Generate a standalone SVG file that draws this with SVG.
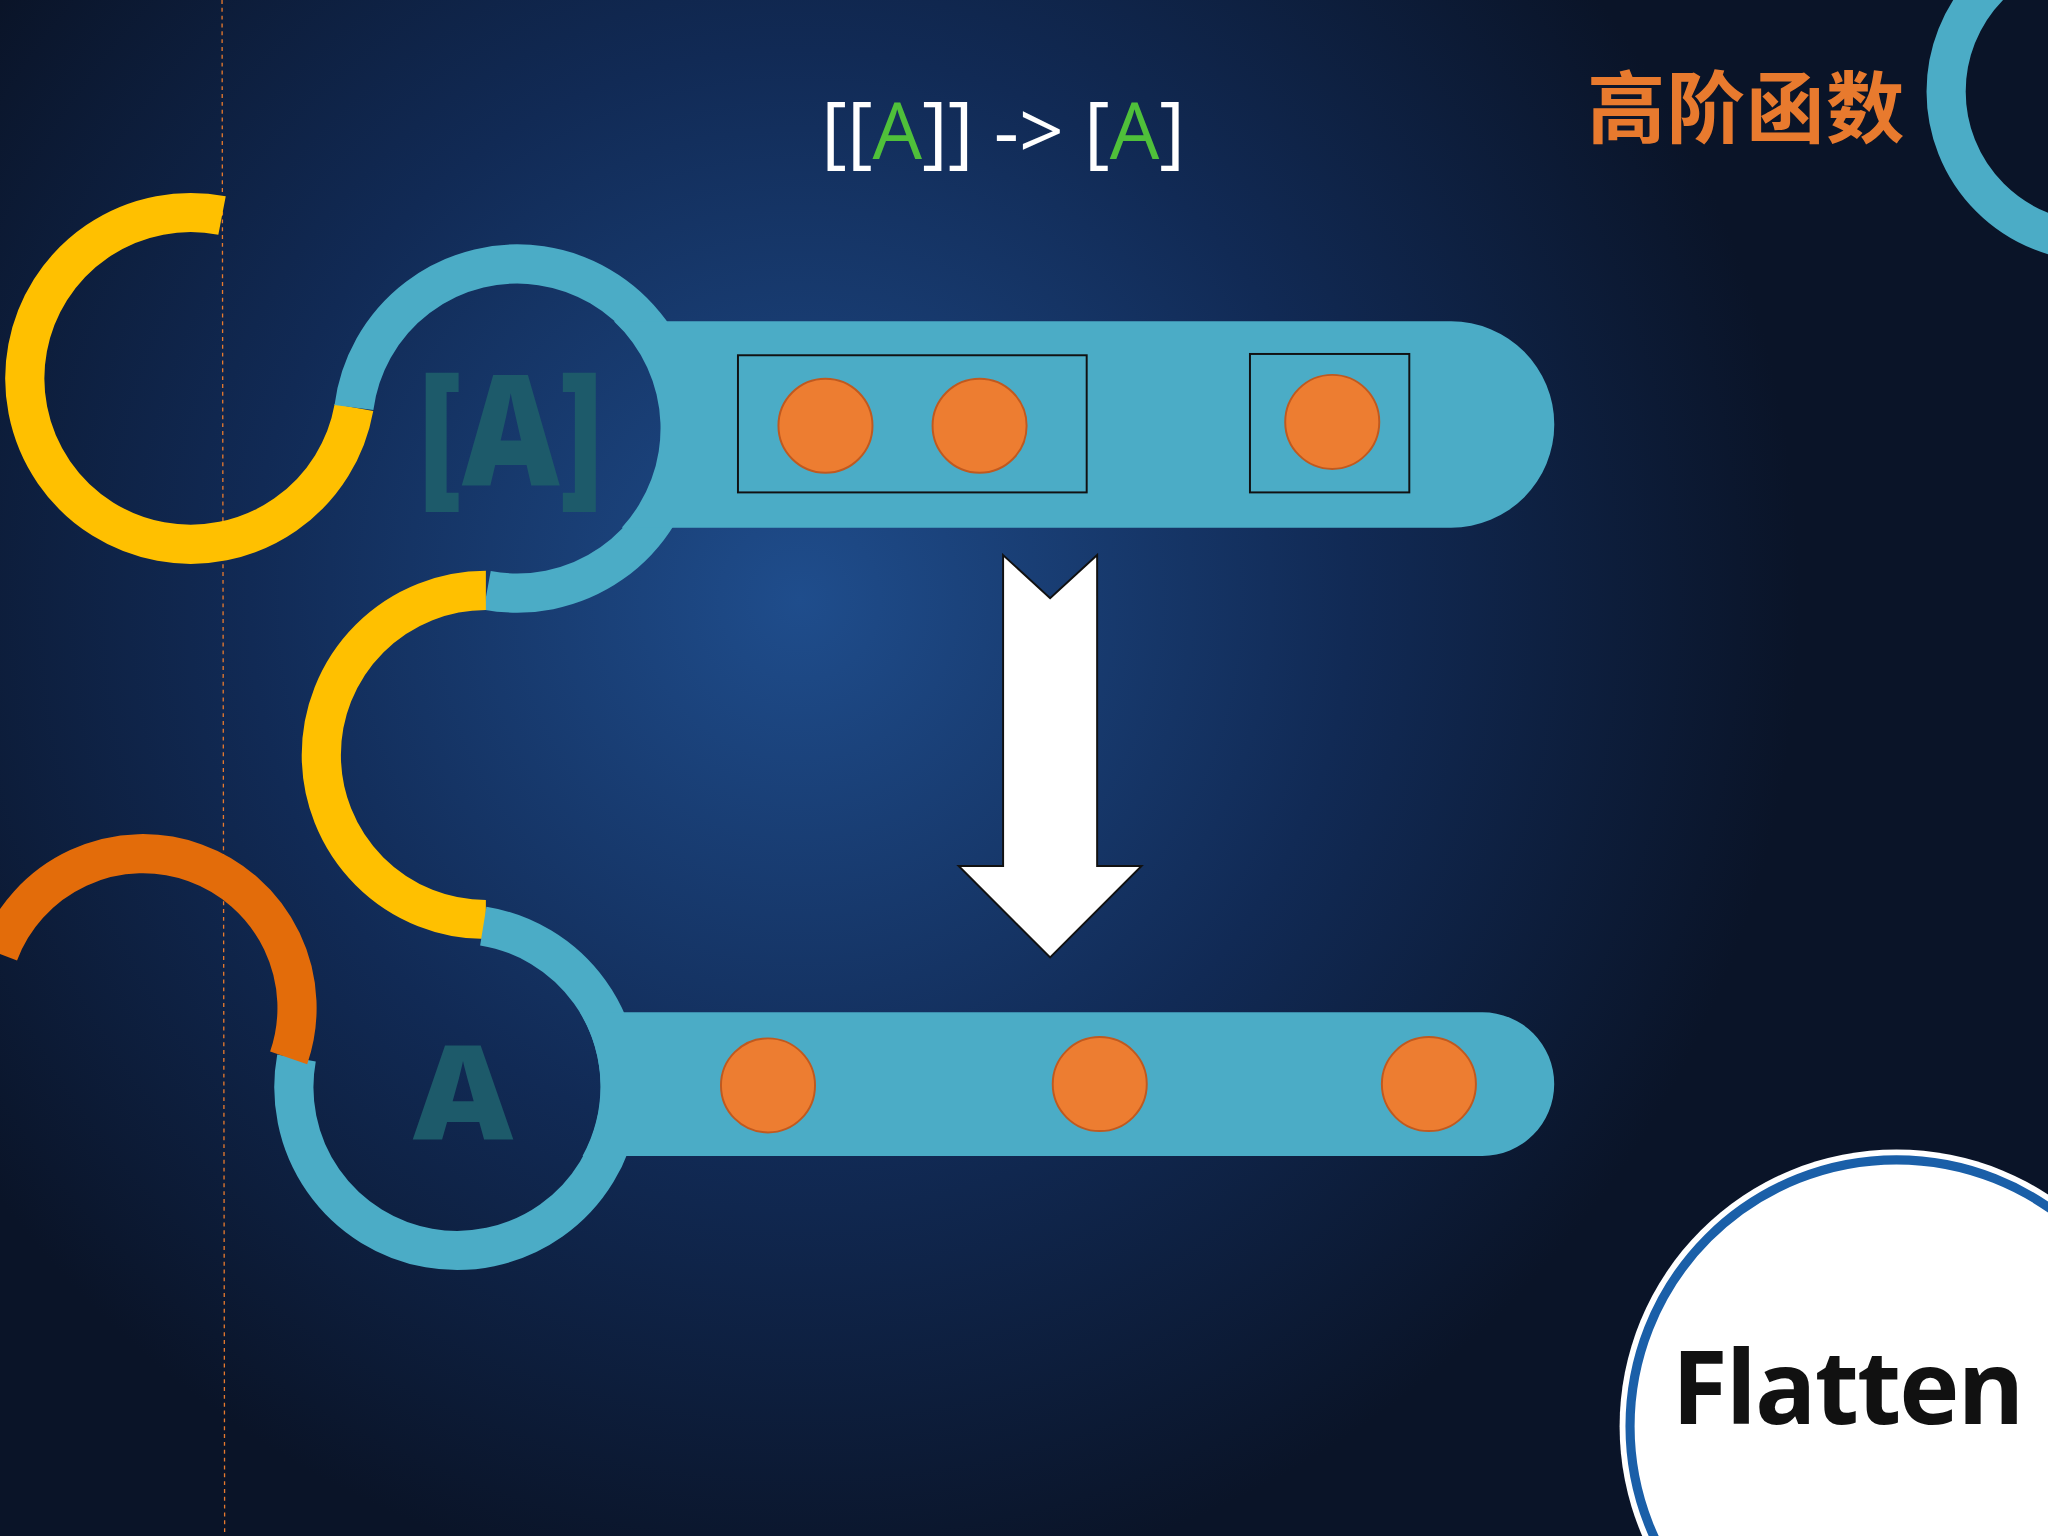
<svg xmlns="http://www.w3.org/2000/svg" width="2048" height="1536" viewBox="0 0 2048 1536">
<defs>
<radialGradient id="bg" cx="800" cy="600" r="1000" gradientUnits="userSpaceOnUse">
<stop offset="0" stop-color="#1f4d8c"/><stop offset="0.55" stop-color="#112a55"/><stop offset="1" stop-color="#0a1428"/>
</radialGradient>
<style>
.ring{fill:none;stroke-width:30}
.blue{stroke:#4bacc6}.bar{fill:#4bacc6}
.dot{fill:#ed7d31;stroke:#c0591f;stroke-width:1.5}
.box{fill:none;stroke:#111;stroke-width:1.5}
.lbl{font-family:"Open Sans","Liberation Sans",sans-serif;font-weight:800;fill:#1d5a6a}
</style>
</defs>
<rect width="2048" height="1536" fill="url(#bg)"/>
<g transform="scale(1.30612)">
<line x1="170" y1="0" x2="172" y2="1176" stroke="#e87a2e" stroke-width="1" stroke-dasharray="3,3"/>
<text x="768" y="122" font-family="'Open Sans','Liberation Sans',sans-serif" font-size="60" fill="#fff" text-anchor="middle">[[<tspan fill="#4fc03a">A</tspan>]] -&gt; [<tspan fill="#4fc03a">A</tspan>]</text>
<text x="1215" y="105" font-family="'Noto Sans CJK SC',sans-serif" font-weight="bold" font-size="60" fill="#e87a2e" textLength="243">高阶函数</text>
<g id="topring"><circle cx="1605" cy="70" r="115" class="ring blue"/></g>
<g id="connectors">
<path class="ring" stroke="#ffc000" d="M170,165 A127,127 0 1 0 271,312"/>
<path class="ring blue" d="M271,312 A126,126 0 1 1 373,452"/>
<path class="ring" stroke="#ffc000" d="M372,452 A126,126 0 0 0 372,704"/>
<path class="ring blue" d="M370,709 A125,125 0 1 1 227,810"/>
<path class="ring" stroke="#e36c0a" d="M-1,730 A118,118 0 0 1 221,810"/>
</g>
<g id="bar1">
<path class="bar" d="M470,246 H1111 A79,79 0 0 1 1111,404 H476 A112,112 0 0 0 470,246 Z"/>
<text class="lbl" x="320" y="372" font-size="118" textLength="142" lengthAdjust="spacingAndGlyphs">[A]</text>
<rect class="box" x="565" y="272" width="267" height="105"/>
<rect class="box" x="957" y="271" width="122" height="106"/>
<circle class="dot" cx="632" cy="326" r="36"/>
<circle class="dot" cx="750" cy="326" r="36"/>
<circle class="dot" cx="1020" cy="323" r="36"/>
</g>
<g id="arrow"><polygon points="768,425 804,458 840,425 840,663 874,663 804,733 734,663 768,663" fill="#fff" stroke="#111" stroke-width="1.5"/></g>
<g id="bar2">
<path class="bar" d="M444,775 H1135 A55,55 0 0 1 1135,885 H446 A110,110 0 0 0 444,775 Z"/>
<text class="lbl" x="316" y="873" font-size="100" textLength="77" lengthAdjust="spacingAndGlyphs">A</text>
<circle class="dot" cx="588" cy="831" r="36"/>
<circle class="dot" cx="842" cy="830" r="36"/>
<circle class="dot" cx="1094" cy="830" r="36"/>
</g>
<g id="flatten">
<circle cx="1452" cy="1092" r="212" fill="#fff"/>
<circle cx="1452" cy="1092" r="204" fill="#fff" stroke="#1a5fa8" stroke-width="7"/>
<text x="1280" y="1090" font-family="'Open Sans','Liberation Sans',sans-serif" font-weight="bold" font-size="78" fill="#111" textLength="270">Flatten</text>
</g>
</g>
</svg>
